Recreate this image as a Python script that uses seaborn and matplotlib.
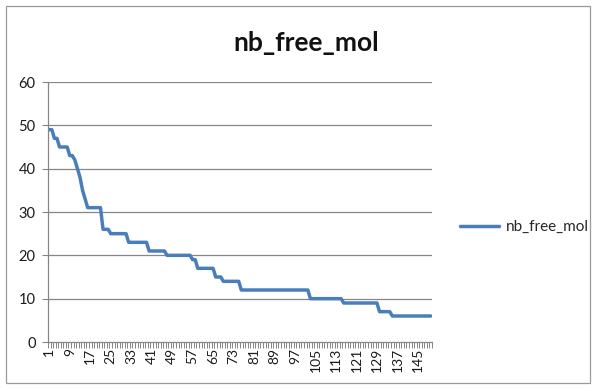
import numpy as np
import pandas as pd
import matplotlib
matplotlib.use("Agg")
import matplotlib.pyplot as plt
import seaborn as sns
from matplotlib.patches import Rectangle

series_name = "nb_free_mol"
nb_free_mol = [
    49, 49, 47, 47, 45, 45, 45, 45, 43, 43,
    42, 40, 38, 35, 33, 31, 31, 31, 31, 31,
    31, 26, 26, 26, 25, 25, 25, 25, 25, 25,
    25, 23, 23, 23, 23, 23, 23, 23, 23, 21,
    21, 21, 21, 21, 21, 21, 20, 20, 20, 20,
    20, 20, 20, 20, 20, 20, 19, 19, 17, 17,
    17, 17, 17, 17, 17, 15, 15, 15, 14, 14,
    14, 14, 14, 14, 14, 12, 12, 12, 12, 12,
    12, 12, 12, 12, 12, 12, 12, 12, 12, 12,
    12, 12, 12, 12, 12, 12, 12, 12, 12, 12,
    12, 12, 10, 10, 10, 10, 10, 10, 10, 10,
    10, 10, 10, 10, 10, 9, 9, 9, 9, 9,
    9, 9, 9, 9, 9, 9, 9, 9, 9, 7,
    7, 7, 7, 7, 6, 6, 6, 6, 6, 6,
    6, 6, 6, 6, 6, 6, 6, 6, 6, 6,
]
categories = list(range(1, len(nb_free_mol) + 1))
label_categories = list(range(1, len(nb_free_mol) + 1, 8))
y_ticks = [0, 10, 20, 30, 40, 50, 60]

df = pd.DataFrame({"cat": categories, series_name: nb_free_mol})

sns.set_theme(style="white")
plt.rcParams["font.family"] = ["Lato", "DejaVu Sans"]

W, H = 596, 389
fig = plt.figure(figsize=(W / 100, H / 100), dpi=100)
fig.patch.set_facecolor("white")

left, right, top, bottom = 48, 432, 82, 342
ax = fig.add_axes([left / W, 1 - bottom / H, (right - left) / W, (bottom - top) / H])

grid_col = "#868686"
sns.lineplot(data=df, x="cat", y=series_name, ax=ax, color="#4A7EBB",
             linewidth=2.5, label=series_name, legend=False)

n = len(categories)
ax.set_xlim(0.5, n + 0.5)
ax.set_ylim(0, 60)
ax.set_yticks(y_ticks)
ax.set_yticklabels([str(v) for v in y_ticks], fontsize=10.5, color="#1a1a1a")
for v in y_ticks[1:]:
    ax.axhline(v, color=grid_col, linewidth=0.9, zorder=0)

ax.set_xticks(label_categories)
ax.set_xticklabels([str(c) for c in label_categories], rotation=90,
                   fontsize=10, color="#1a1a1a")
ax.set_xticks(np.arange(0.5, n + 1, 1.0), minor=True)
ax.tick_params(axis="x", which="major", length=0, pad=4)
ax.tick_params(axis="x", which="minor", length=4, width=0.7, color=grid_col,
               direction="out", bottom=True)
ax.tick_params(axis="y", which="major", length=4, width=0.8, color=grid_col,
               direction="out", left=True, pad=5)

for s in ["top", "right"]:
    ax.spines[s].set_visible(False)
for s in ["left", "bottom"]:
    ax.spines[s].set_color(grid_col)
    ax.spines[s].set_linewidth(0.9)
ax.set_xlabel("")
ax.set_ylabel("")

fig.text(306 / W, 1 - 43 / H, series_name, ha="center", va="center",
         fontsize=19, fontweight="bold", color="#111111")

handles, labels = ax.get_legend_handles_labels()
fig.legend(handles, labels, loc="center left",
           bbox_to_anchor=(452 / W, 1 - 227 / H), frameon=False,
           fontsize=11, handlelength=2.6, handletextpad=0.4, borderpad=0)

fig.add_artist(Rectangle((6 / W, 6 / H), (W - 12) / W, (H - 12) / H,
                         transform=fig.transFigure, fill=False,
                         edgecolor="#9a9a9a", linewidth=0.9))

fig.savefig("out.png", dpi=100)
